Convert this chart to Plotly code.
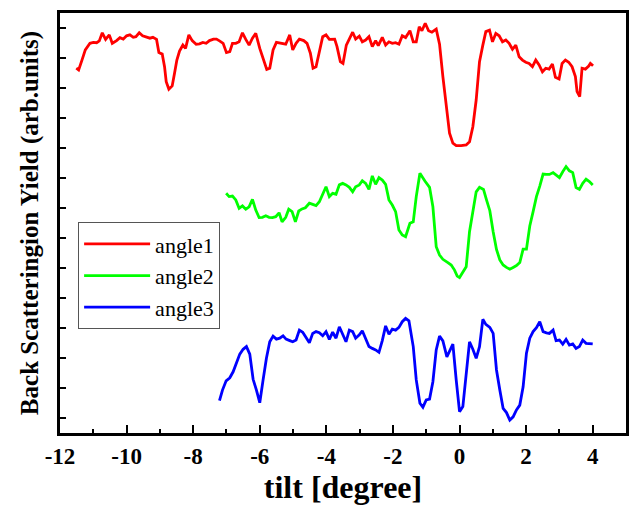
import plotly.graph_objects as go

# ---- data (tilt in degrees, yield in arbitrary units) ----
angle1_x = [-11.51, -11.44, -11.34, -11.24, -11.10, -11.00, -10.90, -10.82, -10.73, -10.63,
            -10.52, -10.43, -10.30, -10.20, -10.10, -10.00, -9.90, -9.80, -9.72, -9.62,
            -9.52, -9.40, -9.30, -9.21, -9.10, -9.03, -8.93, -8.86, -8.81, -8.73,
            -8.63, -8.56, -8.49, -8.41, -8.31, -8.23, -8.13, -8.03, -7.91, -7.81,
            -7.71, -7.61, -7.51, -7.39, -7.30, -7.21, -7.10, -7.00, -6.90, -6.82,
            -6.72, -6.62, -6.52, -6.42, -6.32, -6.22, -6.12, -6.00, -5.87, -5.79,
            -5.70, -5.60, -5.50, -5.37, -5.22, -5.10, -5.01, -4.91, -4.81, -4.68,
            -4.58, -4.48, -4.40, -4.31, -4.21, -4.11, -4.01, -3.91, -3.75, -3.68,
            -3.58, -3.50, -3.40, -3.28, -3.21, -3.12, -3.01, -2.92, -2.82, -2.72,
            -2.62, -2.52, -2.44, -2.32, -2.22, -2.12, -2.02, -1.92, -1.82, -1.72,
            -1.62, -1.49, -1.39, -1.30, -1.21, -1.13, -1.03, -0.93, -0.83, -0.70,
            -0.60, -0.50, -0.40, -0.30, -0.20, -0.10, 0.05, 0.20, 0.30, 0.40,
            0.50, 0.60, 0.70, 0.79, 0.90, 0.99, 1.09, 1.19, 1.29, 1.39,
            1.49, 1.59, 1.69, 1.79, 1.89, 1.99, 2.09, 2.19, 2.29, 2.39,
            2.49, 2.59, 2.69, 2.79, 2.88, 2.99, 3.08, 3.18, 3.28, 3.38,
            3.48, 3.53, 3.61, 3.68, 3.78, 3.88, 3.93, 4.01]
angle1_y = [12.16, 12.10, 12.43, 12.77, 12.99, 13.02, 13.01, 13.07, 13.34, 13.12,
            13.27, 12.99, 13.08, 13.18, 13.13, 13.24, 13.27, 13.19, 13.21, 13.34,
            13.24, 13.21, 13.16, 13.19, 13.12, 12.68, 12.63, 12.21, 11.71, 11.46,
            11.57, 11.99, 12.43, 12.73, 12.93, 12.82, 13.27, 13.08, 12.96, 12.97,
            13.02, 12.99, 13.08, 13.13, 13.13, 13.07, 12.99, 12.68, 12.71, 12.99,
            12.99, 13.04, 13.34, 13.12, 12.93, 13.16, 13.32, 12.82, 12.38, 12.12,
            12.16, 12.77, 13.02, 12.99, 12.96, 13.27, 12.77, 12.99, 13.13, 13.08,
            12.99, 12.66, 12.16, 12.21, 12.66, 13.21, 13.27, 13.12, 13.13, 12.88,
            12.38, 12.32, 12.93, 13.21, 13.36, 13.13, 13.23, 13.04, 13.10, 13.21,
            12.88, 13.08, 12.91, 13.19, 12.93, 13.04, 12.99, 13.01, 12.96, 13.24,
            13.18, 13.41, 13.04, 13.04, 13.54, 13.41, 13.66, 13.41, 13.36, 13.46,
            12.96, 11.88, 10.88, 9.99, 9.66, 9.58, 9.58, 9.60, 9.71, 10.21,
            11.10, 12.38, 12.93, 13.38, 13.43, 13.04, 13.32, 13.24, 13.04, 13.10,
            12.99, 12.79, 12.93, 12.54, 12.43, 12.36, 12.32, 12.21, 12.43, 12.27,
            12.04, 12.16, 12.13, 12.30, 11.86, 11.80, 12.32, 12.43, 12.36, 12.21,
            11.88, 11.38, 11.21, 12.16, 12.13, 12.23, 12.32, 12.24]

angle2_x = [-7.01, -6.92, -6.82, -6.72, -6.62, -6.52, -6.42, -6.32, -6.22, -6.12,
            -6.02, -5.92, -5.82, -5.72, -5.62, -5.52, -5.42, -5.33, -5.22, -5.13,
            -5.03, -4.93, -4.83, -4.73, -4.63, -4.51, -4.41, -4.31, -4.21, -4.11,
            -4.01, -3.91, -3.81, -3.71, -3.61, -3.51, -3.41, -3.31, -3.21, -3.12,
            -3.01, -2.92, -2.82, -2.72, -2.62, -2.52, -2.42, -2.32, -2.22, -2.12,
            -2.02, -1.92, -1.82, -1.72, -1.62, -1.49, -1.39, -1.30, -1.19, -1.04,
            -0.90, -0.80, -0.70, -0.60, -0.50, -0.35, -0.25, -0.15, -0.07, 0.00,
            0.10, 0.20, 0.30, 0.40, 0.50, 0.60, 0.72, 0.81, 0.91, 1.01,
            1.11, 1.21, 1.31, 1.41, 1.51, 1.61, 1.71, 1.81, 1.91, 2.01,
            2.11, 2.21, 2.31, 2.41, 2.51, 2.61, 2.70, 2.81, 2.90, 3.00,
            3.10, 3.20, 3.30, 3.40, 3.50, 3.60, 3.70, 3.80, 3.90, 4.00]
angle2_y = [7.99, 7.88, 7.90, 7.77, 7.49, 7.57, 7.46, 7.54, 7.79, 7.43,
            7.18, 7.19, 7.24, 7.19, 7.18, 7.21, 7.34, 7.04, 7.19, 7.46,
            7.38, 7.04, 7.40, 7.47, 7.51, 7.66, 7.62, 7.58, 7.71, 7.99,
            8.21, 7.88, 7.99, 7.96, 8.27, 8.32, 8.27, 8.19, 8.04, 8.21,
            8.27, 8.41, 8.32, 8.12, 8.57, 8.29, 8.51, 8.43, 8.29, 7.77,
            7.60, 7.38, 6.77, 6.60, 6.54, 6.99, 7.04, 7.88, 8.66, 8.40,
            8.19, 7.54, 6.21, 5.93, 5.79, 5.68, 5.60, 5.43, 5.23, 5.18,
            5.34, 5.54, 6.71, 7.43, 8.04, 8.19, 8.12, 7.77, 7.41, 6.71,
            6.12, 5.77, 5.60, 5.52, 5.46, 5.52, 5.58, 5.68, 6.13, 6.13,
            6.90, 7.38, 7.88, 8.23, 8.63, 8.62, 8.62, 8.68, 8.60, 8.51,
            8.71, 8.88, 8.74, 8.68, 8.18, 8.12, 8.32, 8.46, 8.38, 8.27]

angle3_x = [-7.21, -7.12, -7.01, -6.90, -6.80, -6.70, -6.60, -6.50, -6.40, -6.30,
            -6.20, -6.10, -6.00, -5.90, -5.80, -5.70, -5.60, -5.50, -5.40, -5.30,
            -5.21, -5.10, -5.01, -4.91, -4.81, -4.71, -4.61, -4.51, -4.41, -4.31,
            -4.21, -4.11, -4.01, -3.91, -3.81, -3.71, -3.61, -3.51, -3.41, -3.31,
            -3.21, -3.12, -3.01, -2.92, -2.82, -2.72, -2.62, -2.52, -2.42, -2.32,
            -2.22, -2.12, -2.02, -1.92, -1.82, -1.72, -1.62, -1.52, -1.39, -1.30,
            -1.19, -1.10, -1.00, -0.90, -0.80, -0.70, -0.60, -0.50, -0.38, -0.28,
            -0.20, -0.10, 0.00, 0.10, 0.20, 0.30, 0.40, 0.50, 0.60, 0.70,
            0.79, 0.91, 1.01, 1.11, 1.21, 1.31, 1.41, 1.51, 1.61, 1.71,
            1.81, 1.91, 2.01, 2.11, 2.21, 2.31, 2.41, 2.51, 2.61, 2.70,
            2.81, 2.90, 3.00, 3.10, 3.20, 3.30, 3.40, 3.50, 3.60, 3.70,
            3.80, 3.90, 4.00]
angle3_y = [1.08, 1.43, 1.74, 1.84, 2.04, 2.32, 2.63, 2.79, 2.88, 2.63,
            1.79, 1.43, 1.01, 1.77, 2.49, 3.04, 3.23, 3.13, 3.16, 3.24,
            3.13, 3.08, 3.04, 3.10, 3.43, 3.36, 3.19, 3.01, 3.32, 3.38,
            3.34, 3.24, 3.38, 3.12, 3.36, 3.16, 3.54, 3.27, 3.04, 3.43,
            3.38, 3.16, 3.27, 3.41, 3.16, 2.88, 2.82, 2.77, 2.69, 3.08,
            3.57, 3.29, 3.46, 3.43, 3.52, 3.71, 3.82, 3.74, 2.88, 1.77,
            0.99, 0.86, 1.10, 1.13, 1.71, 2.77, 3.23, 3.07, 2.54, 2.77,
            2.96, 1.77, 0.71, 0.88, 1.93, 3.04, 2.79, 2.49, 2.88, 3.79,
            3.62, 3.52, 3.32, 2.10, 1.43, 0.82, 0.68, 0.43, 0.54, 0.77,
            0.93, 1.54, 2.66, 3.16, 3.38, 3.51, 3.71, 3.38, 3.34, 3.32,
            3.43, 3.08, 3.10, 2.96, 3.12, 2.93, 2.97, 2.82, 2.88, 3.10,
            2.99, 2.99, 2.97]

series_names = ["angle1", "angle2", "angle3"]
series_colors = ["#FF0000", "#00FF00", "#0000FF"]
x_tick_vals = [-12, -10, -8, -6, -4, -2, 0, 2, 4]
x_tick_text = ["-12", "-10", "-8", "-6", "-4", "-2", "0", "2", "4"]
y_tick_vals = [0.5 + i for i in range(14)]

SERIF = "Liberation Serif, Times New Roman, serif"

fig = go.Figure()
for name, xs, ys, col in zip(series_names,
                             [angle1_x, angle2_x, angle3_x],
                             [angle1_y, angle2_y, angle3_y],
                             series_colors):
    fig.add_trace(go.Scatter(x=xs, y=ys, mode="lines", name=name,
                             line=dict(color=col, width=2.8)))

fig.update_layout(
    width=632, height=508,
    margin=dict(l=60, r=3, t=13, b=75),
    paper_bgcolor="white", plot_bgcolor="white",
    font=dict(family=SERIF, color="black"),
    showlegend=True,
    legend=dict(x=0.032, y=0.502, xanchor="left", yanchor="top",
                bordercolor="#555555", borderwidth=1, bgcolor="white",
                font=dict(family=SERIF, size=22, color="black"),
                itemwidth=66, tracegroupgap=0),
    xaxis=dict(range=[-12, 5], showgrid=False, zeroline=False,
               showline=True, linecolor="black", linewidth=3, mirror=True,
               tickvals=x_tick_vals, ticktext=x_tick_text,
               ticks="inside", ticklen=8, tickwidth=2, tickcolor="black",
               minor=dict(dtick=1, ticks="inside", ticklen=4, tickwidth=2,
                          tickcolor="black", showgrid=False),
               tickfont=dict(family=SERIF, size=23, color="black", weight="bold"),
               title=dict(text="<b>tilt [degree]</b>", standoff=9,
                          font=dict(family=SERIF, size=32, color="black"))),
    xaxis2=dict(range=[-12, 5], overlaying="x", side="top", showgrid=False,
                zeroline=False, showline=False, dtick=1, tick0=0,
                ticks="inside", ticklen=3, tickwidth=2, tickcolor="black",
                showticklabels=False),
    yaxis=dict(range=[0, 14], showgrid=False, zeroline=False,
               showline=True, linecolor="black", linewidth=3, mirror=True,
               tickvals=y_tick_vals, showticklabels=False,
               ticks="inside", ticklen=6, tickwidth=2, tickcolor="black",
               title=dict(text="<b>Back Scatteringion Yield (arb.units)</b>", standoff=12,
                          font=dict(family=SERIF, size=25, color="black"))),
)

fig.write_html("out.html", config={"displayModeBar": False},
               post_script="document.body.style.margin='0px';")
